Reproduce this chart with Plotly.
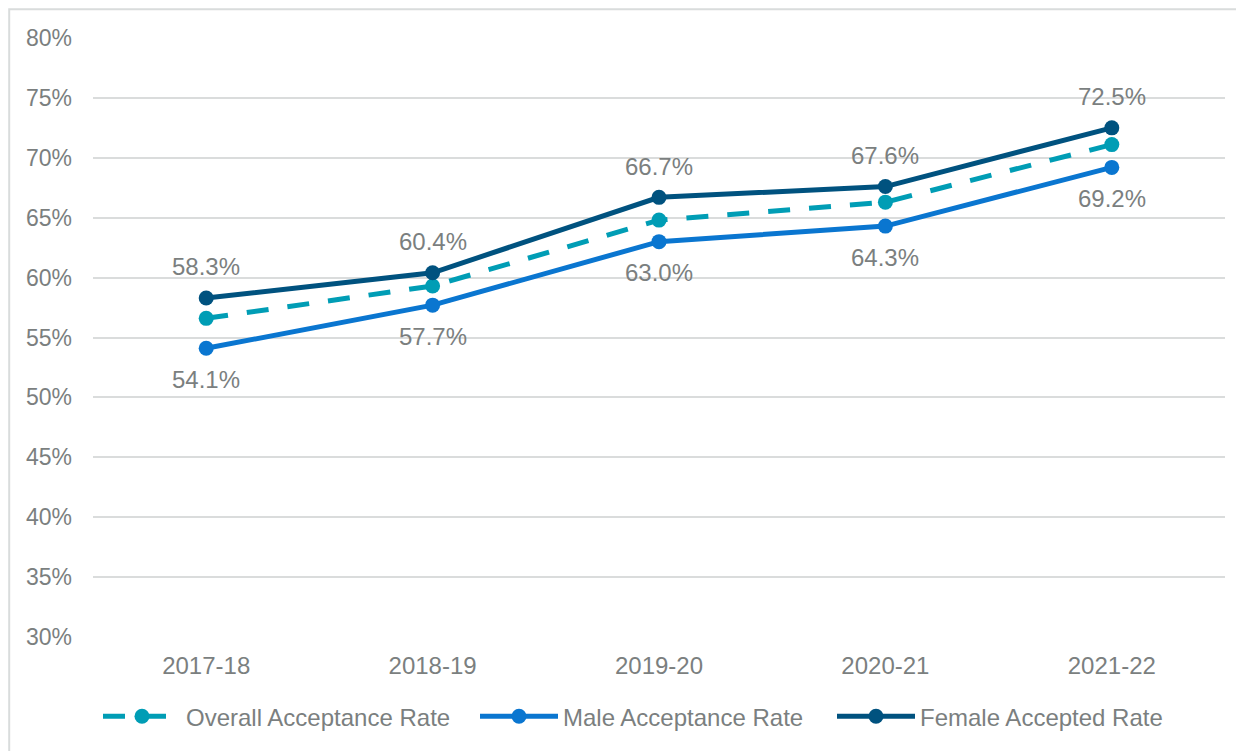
import plotly.graph_objects as go

years = ["2017-18", "2018-19", "2019-20", "2020-21", "2021-22"]
overall = [56.6, 59.3, 64.8, 66.3, 71.1]
male = [54.1, 57.7, 63.0, 64.3, 69.2]
female = [58.3, 60.4, 66.7, 67.6, 72.5]
y_ticks = [30, 35, 40, 45, 50, 55, 60, 65, 70, 75, 80]
series_names = ["Overall Acceptance Rate", "Male Acceptance Rate", "Female Accepted Rate"]

c_overall = "#009DB5"
c_male = "#0A76D0"
c_female = "#00527F"
grey = "#7B7F7F"
FONT = "Liberation Sans, Arial, sans-serif"

# figure is placed at (8, 8) on the page (body margin)
FW, FH = 1236, 743
L, W, T, H = 85, 1132, 30, 602


def px_x(screen):
    return (screen - 8 - L) / W


def px_y(screen):
    return (T + H - (screen - 8)) / H


fig = go.Figure()
fig.add_trace(go.Scatter(x=years, y=overall, name=series_names[0],
                         mode="lines+markers", legend="legend",
                         line=dict(color=c_overall, width=5, dash="22px,19px"),
                         marker=dict(color=c_overall, size=15)))
fig.add_trace(go.Scatter(x=years, y=male, name=series_names[1],
                         mode="lines+markers", legend="legend2",
                         line=dict(color=c_male, width=5),
                         marker=dict(color=c_male, size=15)))
fig.add_trace(go.Scatter(x=years, y=female, name=series_names[2],
                         mode="lines+markers", legend="legend3",
                         line=dict(color=c_female, width=5),
                         marker=dict(color=c_female, size=15)))

annotations = []
for x, v in zip(years, female):
    annotations.append(dict(x=x, y=v, text=f"{v:.1f}%", showarrow=False,
                            yshift=31, font=dict(size=24, color=grey, family=FONT)))
for x, v in zip(years, male):
    annotations.append(dict(x=x, y=v, text=f"{v:.1f}%", showarrow=False,
                            yshift=-31, font=dict(size=24, color=grey, family=FONT)))


def leg(text_start):
    return dict(orientation="h", x=px_x(text_start - 88), xanchor="left",
                y=px_y(720), yanchor="middle", itemwidth=78,
                font=dict(size=24, color=grey, family=FONT),
                bgcolor="rgba(0,0,0,0)")


fig.update_layout(
    width=FW, height=FH,
    margin=dict(l=L, r=FW - L - W, t=T, b=FH - T - H),
    paper_bgcolor="white", plot_bgcolor="white",
    font=dict(family=FONT, size=23, color=grey),
    showlegend=True,
    legend=leg(186), legend2=leg(563), legend3=leg(920),
    xaxis=dict(range=[-0.5, 4.5], showgrid=False, zeroline=False,
               showline=False, ticks="", ticklabelstandoff=12,
               tickfont=dict(size=24, color=grey, family=FONT)),
    yaxis=dict(range=[30, 80], tickvals=y_ticks,
               ticktext=[f"{t}%" for t in y_ticks],
               showgrid=True, gridcolor="#DADCDC", gridwidth=2,
               zeroline=False, showline=False, ticks="", ticklabelstandoff=20,
               tickfont=dict(size=23, color=grey, family=FONT)),
    annotations=annotations,
    shapes=[dict(type="rect", xref="paper", yref="paper",
                 x0=px_x(9.2), x1=px_x(1270), y0=px_y(780), y1=px_y(9.2),
                 line=dict(color="#D9DCDC", width=2), fillcolor="rgba(0,0,0,0)",
                 layer="below")],
)

fig.write_html("out.html")
